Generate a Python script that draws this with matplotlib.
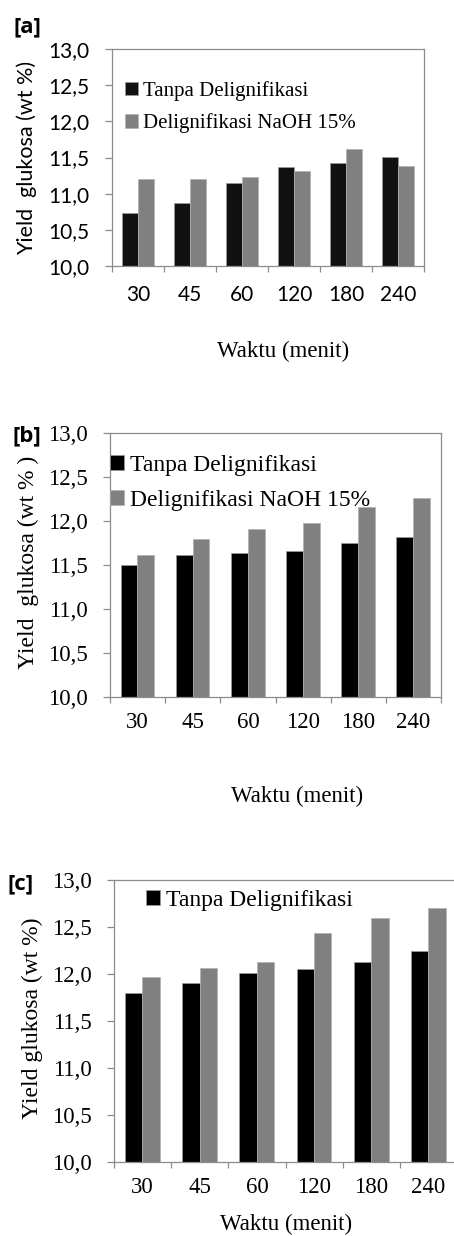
import numpy as np
import matplotlib
matplotlib.use('Agg')
import matplotlib.pyplot as plt

# data
waktu = ['30', '45', '60', '120', '180', '240']
a_tanpa = [10.73, 10.87, 11.15, 11.37, 11.43, 11.51]
a_naoh = [11.20, 11.20, 11.23, 11.32, 11.62, 11.38]
b_tanpa = [11.50, 11.61, 11.64, 11.66, 11.75, 11.82]
b_naoh = [11.61, 11.79, 11.91, 11.98, 12.16, 12.26]
c_tanpa = [11.80, 11.90, 12.01, 12.05, 12.13, 12.25]
c_naoh = [11.97, 12.06, 12.13, 12.44, 12.60, 12.70]
yticks = [10.0, 10.5, 11.0, 11.5, 12.0, 12.5, 13.0]
lbl_tanpa = 'Tanpa Delignifikasi'
lbl_naoh = 'Delignifikasi NaOH 15%'

W, H = 454, 1236
SERIF = 'Liberation Serif'
SANS = 'Lato'
SPINE = '#8c8c8c'

fig = plt.figure(figsize=(W/100, H/100), dpi=100)

def px(l, t, r, b):
    return [l/W, 1-b/H, (r-l)/W, (b-t)/H]

def panel(rect, tanpa, naoh, tickfont, tickfs, ylab, ylabfont, ylabfs, ylabxy,
          xlabfs, xlabxy, legfs, legxy, legsp, handles_n, tag, tagxy, black='#000000',
          right_spine=True):
    ax = fig.add_axes(px(*rect))
    x = np.arange(len(waktu))
    b1 = ax.bar(x-0.155, np.array(tanpa)-10, bottom=10, width=0.305, color=black,
                edgecolor='#9a9a9a', linewidth=0.5, label=lbl_tanpa)
    b2 = ax.bar(x+0.15, np.array(naoh)-10, bottom=10, width=0.305, color='#808080',
                edgecolor='#b0b0b0', linewidth=0.5, label=lbl_naoh)
    ax.set_xlim(-0.5, len(waktu)-0.5)
    ax.set_ylim(10, 13)
    ax.set_yticks(yticks)
    ax.set_yticklabels([('%.1f' % v).replace('.', ',') for v in yticks],
                       fontfamily=tickfont, fontsize=tickfs)
    ax.set_xticks(np.arange(len(waktu)+1)-0.5)
    ax.set_xticklabels([])
    ax.set_xticks(x, minor=True)
    ax.set_xticklabels(waktu, minor=True, fontfamily=tickfont, fontsize=tickfs)
    ax.tick_params(axis='x', which='major', direction='out', length=4.5, width=0.9, color=SPINE)
    ax.tick_params(axis='x', which='minor', length=0, pad=tickpad[tag])
    ax.tick_params(axis='y', direction='out', length=5, width=0.9, color=SPINE, pad=11)
    for s in ax.spines.values():
        s.set_color(SPINE)
        s.set_linewidth(0.9)
    ax.spines['right'].set_visible(right_spine)
    ax.set_ylabel(ylab, fontfamily=ylabfont, fontsize=ylabfs, va='center')
    ax.yaxis.set_label_coords(*ylabxy)
    ax.set_xlabel('Waktu (menit)', fontfamily=SERIF, fontsize=xlabfs, va='center')
    ax.xaxis.set_label_coords(*xlabxy)
    hs = [b1, b2][:handles_n]
    ax.legend(handles=hs, loc='upper left', bbox_to_anchor=(legxy[0]/W, 1-legxy[1]/H),
              bbox_transform=fig.transFigure, frameon=False, borderpad=0, borderaxespad=0,
              handlelength=0.6, handleheight=0.6, handletextpad=0.25, labelspacing=legsp,
              prop={'family': SERIF, 'size': legfs})
    fig.text(tagxy[0]/W, 1-tagxy[1]/H, '[%s]' % tag, fontfamily='Open Sans', fontweight='bold',
             fontsize=16, ha='center', va='center')
    return ax

tickpad = {'a': 14, 'b': 11, 'c': 11}

panel((112, 49, 424, 266), a_tanpa, a_naoh, SANS, 15, 'Yield  glukosa (wt %)', SANS, 15.5,
      (-0.272, 0.5), 16.5, (0.548, -0.396), 15, (125, 81), 0.6, 2, 'a', (27, 27),
      black='#111111')
panel((110, 433, 441, 697), b_tanpa, b_naoh, SERIF, 16.5, 'Yield  glukosa (wt % )', SERIF, 17,
      (-0.248, 0.511), 16.5, (0.565, -0.375), 17, (110, 455), 0.6, 2, 'b', (27, 436))
panel((114, 880, 457, 1162), c_tanpa, c_naoh, SERIF, 16.5, 'Yield glukosa (wt %)', SERIF, 17,
      (-0.239, 0.511), 16.5, (0.501, -0.22), 17, (146, 890), 0.6, 1, 'c', (21, 884),
      right_spine=False)

fig.savefig('out.png', dpi=100)
